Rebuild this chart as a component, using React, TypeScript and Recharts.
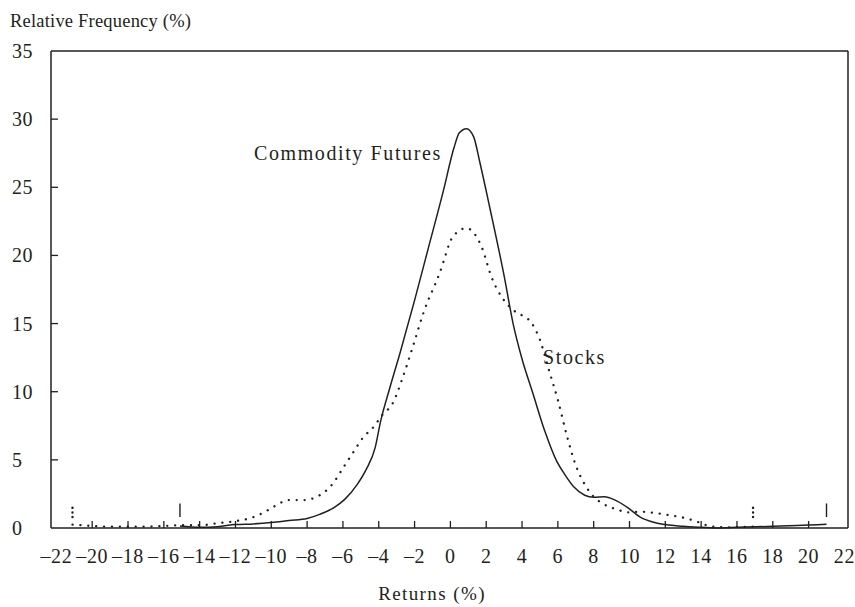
import { LineChart, Line, XAxis, YAxis, ReferenceLine } from "recharts";

// Return buckets (%) and relative frequency (%)
const futuresX = [-15.1, -14, -13, -12, -11, -10, -9, -8, -7.3, -6.5, -5.9, -5.2, -4.7, -4.2, -3.9, -3.4, -2.8, -2.0, -1.2, -0.4, 0.2, 0.5, 0.9, 1.3, 1.65, 2.2, 3.0, 3.5, 4.0, 4.6, 5.3, 5.9, 6.4, 6.9, 7.5, 8.0, 8.6, 9.2, 9.9, 10.6, 11.4, 12, 13, 14, 15, 16, 18, 20, 21];
const futuresY = [0.15, 0.05, 0.1, 0.25, 0.3, 0.4, 0.55, 0.7, 1.0, 1.5, 2.1, 3.2, 4.3, 5.9, 7.8, 10.2, 12.9, 16.7, 20.7, 24.7, 27.9, 29.0, 29.3, 28.7, 26.8, 23.5, 18.5, 15.0, 12.4, 9.9, 7.0, 5.0, 3.9, 3.0, 2.4, 2.25, 2.3, 2.05, 1.5, 0.8, 0.4, 0.25, 0.12, 0.05, 0.0, 0.05, 0.12, 0.22, 0.27];

const stocksX = [-21.1, -20, -19, -18, -17, -16, -15, -14, -13, -12, -11, -10.2, -9.4, -9.1, -8.2, -7.3, -6.6, -5.9, -5.4, -4.9, -4.3, -3.8, -3.2, -2.7, -2.1, -1.5, -0.6, 0.15, 0.9, 1.75, 2.3, 3, 3.5, 4, 4.5, 5, 5.5, 6, 6.5, 7, 7.5, 8, 8.5, 9.2, 10, 10.6, 11.4, 12.2, 13.2, 13.9, 14.6, 15.5, 16.9];
const stocksY = [0.25, 0.15, 0.1, 0.1, 0.1, 0.15, 0.2, 0.2, 0.35, 0.5, 0.8, 1.3, 1.9, 2.05, 2.05, 2.4, 3.2, 4.6, 5.6, 6.6, 7.4, 8.3, 9.2, 10.9, 13.3, 15.8, 18.7, 21.4, 22.0, 20.6, 18.4, 16.7, 16.0, 15.6, 15.1, 13.8, 11.6, 9.4, 6.8, 4.6, 3.2, 2.3, 1.8, 1.4, 1.15, 1.2, 1.1, 0.95, 0.7, 0.4, 0.1, 0.05, 0.1];

// extreme-return markers
const futuresMarks = [-15.1, 21.0];
const stocksMarks = [-21.1, 16.9];
const markLow = 0.8;
const markHigh = 1.8;

const xTicks = [-22, -20, -18, -16, -14, -12, -10, -8, -6, -4, -2, 0, 2, 4, 6, 8, 10, 12, 14, 16, 18, 20, 22];
const yTicks = [0, 5, 10, 15, 20, 25, 30, 35];

const futures = futuresX.map((x, i) => ({ x, y: futuresY[i] }));
const stocks = stocksX.map((x, i) => ({ x, y: stocksY[i] }));

const FONT = "'Liberation Serif', 'Times New Roman', serif";
const INK = "#231f20";

const fmt = (v: number) => (v < 0 ? `\u2013${Math.abs(v)}` : `${v}`);

const XTick = (props: any) => {
    const { x, y, payload } = props;
    const edge = payload.value === -22 || payload.value === 22;
    return (
        <g>
            {!edge && <line x1={x} x2={x} y1={y} y2={y - 7} stroke={INK} strokeWidth={1.3} />}
            <text x={x} y={y + 35} textAnchor="middle" fontFamily={FONT} fontSize={20} letterSpacing={0.6} fill={INK}>
                {fmt(payload.value)}
            </text>
        </g>
    );
};

const YTick = (props: any) => {
    const { x, y, payload } = props;
    const edge = payload.value === 0 || payload.value === 35;
    return (
        <g>
            {!edge && <line x1={x} x2={x + 7} y1={y} y2={y} stroke={INK} strokeWidth={1.3} />}
            <text x={x - 39} y={y} dy="0.35em" textAnchor="start" fontFamily={FONT} fontSize={20} letterSpacing={0.6} fill={INK}>
                {payload.value}
            </text>
        </g>
    );
};

const App = () => {
    return (
        <div style={{ position: "absolute", left: 0, top: 0, width: 855, height: 607, background: "#fff" }}>
            <LineChart width={855} height={607} margin={{ top: 51, right: 7, bottom: 0, left: 0 }}>
                <XAxis
                    type="number"
                    dataKey="x"
                    domain={[-22.3, 22.2]}
                    ticks={xTicks}
                    interval={0}
                    tick={<XTick />}
                    tickLine={false}
                    tickSize={0}
                    tickMargin={0}
                    height={79}
                    axisLine={{ stroke: INK, strokeWidth: 1.5 }}
                    allowDataOverflow
                />
                <YAxis
                    type="number"
                    domain={[0, 35]}
                    ticks={yTicks}
                    interval={0}
                    tick={<YTick />}
                    tickLine={false}
                    tickSize={0}
                    tickMargin={0}
                    width={51}
                    axisLine={{ stroke: INK, strokeWidth: 1.5 }}
                />
                {/* frame: top and right edges */}
                <ReferenceLine y={35} stroke={INK} strokeWidth={1.5} />
                <ReferenceLine x={22.2} stroke={INK} strokeWidth={1.5} />

                {futuresMarks.map((m) => (
                    <ReferenceLine key={`f${m}`} segment={[{ x: m, y: markLow }, { x: m, y: markHigh }]} stroke={INK} strokeWidth={1.4} />
                ))}
                {stocksMarks.map((m) => (
                    <ReferenceLine key={`s${m}`} segment={[{ x: m, y: markLow }, { x: m, y: markHigh }]} stroke={INK} strokeWidth={2.4} strokeDasharray="0.1 4.5" strokeLinecap="round" />
                ))}

                <Line
                    data={stocks}
                    dataKey="y"
                    type="monotone"
                    stroke={INK}
                    strokeWidth={2.3}
                    strokeDasharray="0.1 7.8"
                    strokeLinecap="round"
                    dot={false}
                    isAnimationActive={false}
                />
                <Line
                    data={futures}
                    dataKey="y"
                    type="monotone"
                    stroke={INK}
                    strokeWidth={1.5}
                    dot={false}
                    isAnimationActive={false}
                />
            </LineChart>
            <svg width={855} height={607} style={{ position: "absolute", left: 0, top: 0, pointerEvents: "none" }}>
                <g fontFamily={FONT} fill={INK}>
                    <text x={10} y={27} fontSize={18.5} letterSpacing={0.2}>Relative Frequency (%)</text>
                    <text x={432} y={600} fontSize={19} letterSpacing={1.4} textAnchor="middle">Returns (%)</text>
                    <text x={254} y={160} fontSize={20} letterSpacing={1.6}>Commodity Futures</text>
                    <text x={543} y={364} fontSize={20} letterSpacing={1.6}>Stocks</text>
                </g>
            </svg>
        </div>
    );
};

export default App;
